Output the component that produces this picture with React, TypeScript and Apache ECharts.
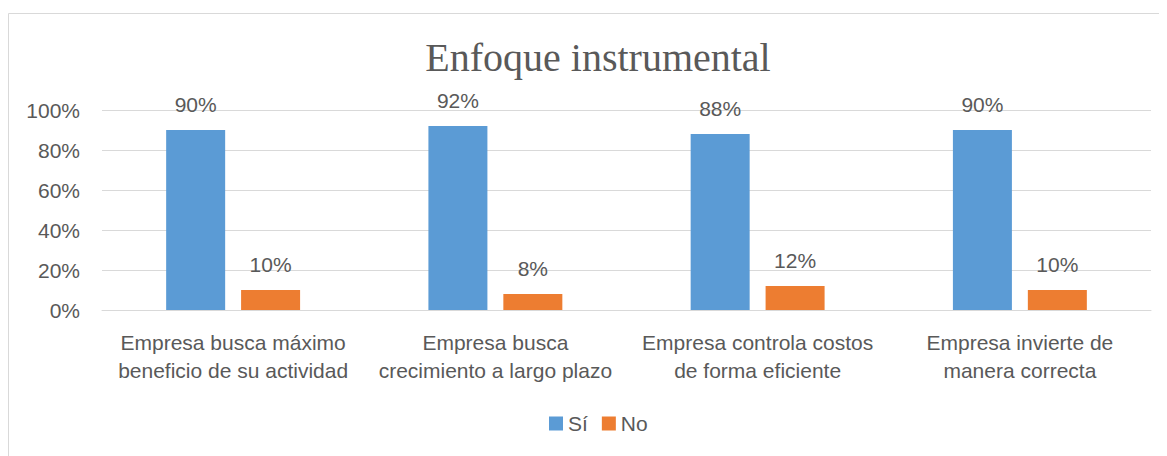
import React, { useEffect, useRef } from "react";
import * as echarts from "echarts";

const categories = [
  "Empresa busca máximo\nbeneficio de su actividad",
  "Empresa busca\ncrecimiento a largo plazo",
  "Empresa controla costos\nde forma eficiente",
  "Empresa invierte de\nmanera correcta",
];
const siValues = [0.9, 0.92, 0.88, 0.9];
const noValues = [0.1, 0.08, 0.12, 0.1];
const seriesNames = ["Sí", "No"];

const TXT = "#595959";
const FONT = "'Liberation Sans', Arial, sans-serif";

export default function App() {
  const ref = useRef<HTMLDivElement>(null);
  useEffect(() => {
    if (!ref.current) return;
    const chart = echarts.init(ref.current, undefined, { renderer: "svg" });
    const pct = (v: number) => `${Math.round(v * 100)}%`;
    const label = {
      show: true,
      position: "top" as const,
      distance: 15,
      color: TXT,
      fontSize: 21,
      fontFamily: FONT,
      formatter: (p: any) => pct(p.value),
    };
    chart.setOption({
      animation: false,
      backgroundColor: "#ffffff",
      textStyle: { fontFamily: FONT },
      graphic: [
        {
          type: "rect",
          shape: { x: 0.5, y: 5.5, width: 1200, height: 500 },
          style: { fill: "none", stroke: "#D9D9D9", lineWidth: 1 },
          silent: true,
          z: -1,
        },
      ],
      title: {
        text: "Enfoque instrumental",
        left: 585,
        textAlign: "center",
        top: 24,
        textStyle: {
          color: TXT,
          fontSize: 40,
          fontWeight: "normal",
          fontFamily: "'Liberation Serif', 'DejaVu Serif', serif",
        },
      },
      legend: {
        data: seriesNames,
        bottom: 17,
        left: 536,
        itemWidth: 14,
        itemHeight: 14,
        itemGap: 14,
        icon: "rect",
        textStyle: { color: TXT, fontSize: 21, fontFamily: FONT },
      },
      grid: { left: 94, right: 16, top: 102, bottom: 146 },
      xAxis: {
        type: "category",
        data: categories,
        axisLine: { show: true, lineStyle: { color: "#D9D9D9", width: 1 } },
        axisTick: { show: false },
        axisLabel: {
          color: TXT,
          fontSize: 21,
          lineHeight: 28,
          margin: 18,
          interval: 0,
          fontFamily: FONT,
        },
      },
      yAxis: {
        type: "value",
        min: 0,
        max: 1,
        interval: 0.2,
        axisLine: { show: false },
        axisTick: { show: false },
        splitLine: { lineStyle: { color: "#D9D9D9", width: 1 } },
        axisLabel: {
          color: TXT,
          fontSize: 21,
          margin: 22,
          fontFamily: FONT,
          formatter: (v: number) => pct(v),
        },
      },
      series: [
        {
          name: seriesNames[0],
          type: "bar",
          data: siValues,
          barWidth: 59,
          barGap: "27%",
          itemStyle: { color: "#5B9BD5" },
          label,
        },
        {
          name: seriesNames[1],
          type: "bar",
          data: noValues,
          barWidth: 59,
          itemStyle: { color: "#ED7D31" },
          label,
        },
      ],
    });
    return () => chart.dispose();
  }, []);
  return <div ref={ref} style={{ width: 1159, height: 448 }} />;
}
